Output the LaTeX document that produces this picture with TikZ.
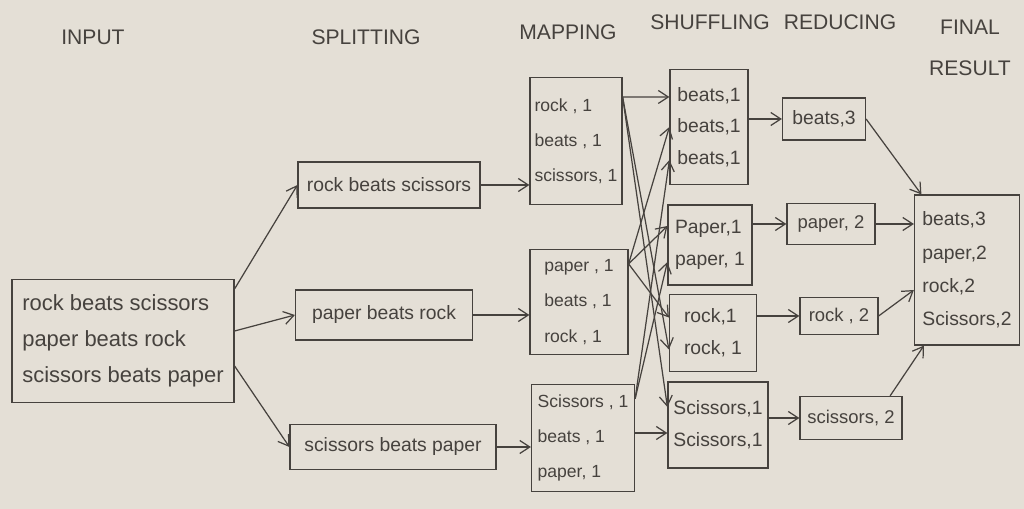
\documentclass[tikz,border=0pt]{standalone}
\usepackage{fontspec}
\setmainfont{Liberation Sans}
\usetikzlibrary{arrows.meta}
\definecolor{paperbg}{RGB}{228,223,214}
\definecolor{ink}{RGB}{70,66,62}
\tikzset{>/.tip={Straight Barb[length=2mm,width=2.6mm]}}

\begin{document}
\begin{tikzpicture}[x=0.02cm,y=-0.02cm,
  box/.style={draw=ink, line width=0.7pt, text=ink, inner sep=2pt, align=left},
  head/.style={text=ink, font=\fontsize{12}{23}\selectfont, align=center},
  every edge/.append style={draw=ink, line width=0.7pt}]
\fill[paperbg] (0,0) rectangle (1024,509);
\useasboundingbox (0,0) rectangle (1024,509);

% headings
\node[head] (h-inp) at (93,37) {INPUT};
\node[head] (h-split) at (366,37) {SPLITTING};
\node[head] (h-map) at (568,32) {MAPPING};
\node[head] (h-shuf) at (710,22) {SHUFFLING};
\node[head] (h-red) at (840,22) {REDUCING};
\node[head] (h-fin) at (970,48) {FINAL\\RESULT};

% input
\node[box, minimum width=4.44cm, minimum height=2.46cm, font=\fontsize{12.5}{20.5}\selectfont] (inp) at (123,341)
  {rock beats scissors\\paper beats rock\\scissors beats paper};

% splitting
\node[box, minimum width=3.64cm, minimum height=0.92cm, font=\fontsize{11}{14}\selectfont] (split1) at (389,185) {rock beats scissors};
\node[box, minimum width=3.54cm, minimum height=1.0cm, font=\fontsize{11}{14}\selectfont] (split2) at (384,315) {paper beats rock};
\node[box, minimum width=4.12cm, minimum height=0.9cm, font=\fontsize{11}{14}\selectfont] (split3) at (393,447) {scissors beats paper};

% mapping
\node[box, minimum width=1.84cm, minimum height=2.54cm, font=\fontsize{10}{20}\selectfont] (map1) at (576,141) {rock , 1\\beats , 1\\scissors, 1};
\node[box, minimum width=1.96cm, minimum height=2.1cm, font=\fontsize{10}{20}\selectfont] (map2) at (579,302) {paper , 1\\beats , 1\\rock , 1};
\node[box, minimum width=2.06cm, minimum height=2.14cm, font=\fontsize{10}{20}\selectfont] (map3) at (583,438) {Scissors , 1\\beats , 1\\paper, 1};

% shuffling
\node[box, minimum width=1.56cm, minimum height=2.3cm, font=\fontsize{11}{18}\selectfont] (sh1) at (709,127) {beats,1\\beats,1\\beats,1};
\node[box, minimum width=1.68cm, minimum height=1.6cm, font=\fontsize{11}{18}\selectfont] (sh2) at (710,245) {Paper,1\\paper, 1};
\node[box, minimum width=1.74cm, minimum height=1.54cm, font=\fontsize{11}{18}\selectfont] (sh3) at (713,333) {rock,1\\rock, 1};
\node[box, minimum width=2.0cm, minimum height=1.72cm, font=\fontsize{11}{18}\selectfont] (sh4) at (718,425) {Scissors,1\\Scissors,1};

% reducing
\node[box, minimum width=1.66cm, minimum height=0.84cm, font=\fontsize{11}{14}\selectfont] (red1) at (824,119) {beats,3};
\node[box, minimum width=1.76cm, minimum height=0.82cm, font=\fontsize{10.5}{14}\selectfont] (red2) at (831,224) {paper, 2};
\node[box, minimum width=1.56cm, minimum height=0.74cm, font=\fontsize{10.5}{14}\selectfont] (red3) at (839,316) {rock , 2};
\node[box, minimum width=2.04cm, minimum height=0.86cm, font=\fontsize{10.5}{14}\selectfont] (red4) at (851,418) {scissors, 2};

% final result
\node[box, minimum width=2.1cm, minimum height=3.0cm, font=\fontsize{11}{19}\selectfont] (fin) at (967,270) {beats,3\\paper,2\\rock,2\\Scissors,2};

% input -> splitting
\path[->] ([yshift=-0.2cm]inp.north east) edge (split1.west);
\path[->] ([yshift=0.2cm]inp.east) edge (split2.west);
\path[->] ([yshift=-0.5cm]inp.east) edge (split3.west);

% splitting -> mapping
\path[->] (split1.east) edge (split1.east -| map1.west);
\path[->] (split2.east) edge (split2.east -| map2.west);
\path[->] (split3.east) edge (split3.east -| map3.west);

% mapping -> shuffling
\path[->] ([yshift=-0.4cm]map1.north east) edge ([yshift=0.6cm]sh1.west);
\path[->] ([yshift=-0.4cm]map1.north east) edge ([yshift=-0.33cm]sh3.west);
\path[->] ([yshift=-0.4cm]map1.north east) edge ([yshift=0.36cm]sh4.west);
\path[->] ([yshift=-0.3cm]map2.north east) edge (sh1.west);
\path[->] ([yshift=-0.3cm]map2.north east) edge ([yshift=0.38cm]sh2.west);
\path[->] ([yshift=-0.3cm]map2.north east) edge ([yshift=0.31cm]sh3.west);
\path[->] ([yshift=-0.3cm]map3.north east) edge ([yshift=-0.66cm]sh1.west);
\path[->] ([yshift=-0.3cm]map3.north east) edge ([yshift=-0.34cm]sh2.west);
\path[->] ([yshift=0.1cm]map3.east) edge ([yshift=0.1cm]map3.east -| sh4.west);

% shuffling -> reducing
\path[->] (sh1.east |- red1.west) edge (red1.west);
\path[->] (sh2.east |- red2.west) edge (red2.west);
\path[->] (sh3.east |- red3.west) edge (red3.west);
\path[->] (sh4.east |- red4.west) edge (red4.west);

% reducing -> final
\path[->] (red1.east) edge ([xshift=0.15cm]fin.north west);
\path[->] (red2.east) edge (red2.east -| fin.west);
\path[->] (red3.east) edge ([yshift=-0.4cm]fin.west);
\path[->] ([xshift=-0.25cm]red4.north east) edge ([xshift=0.2cm]fin.south west);
\end{tikzpicture}
\end{document}
